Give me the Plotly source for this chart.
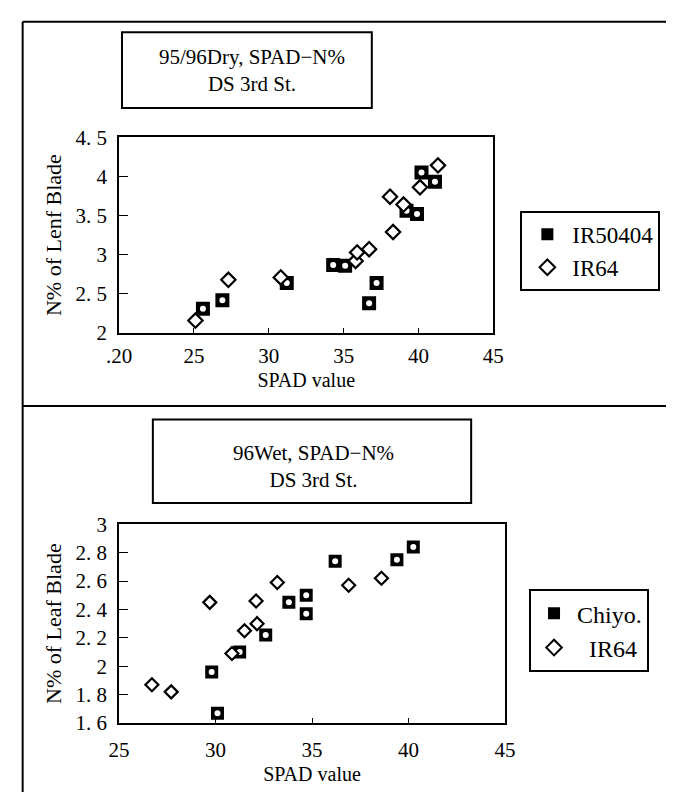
import plotly.graph_objects as go

# ---------------- data ----------------
# Upper chart: 95/96 Dry season
ir50404_x = [25.6, 26.9, 31.2, 34.3, 35.1, 36.7, 37.2, 39.2, 39.9, 40.2, 41.1]
ir50404_y = [2.31, 2.42, 2.64, 2.87, 2.86, 2.38, 2.64, 3.56, 3.52, 4.05, 3.93]
ir64_dry_x = [25.1, 27.3, 30.8, 35.8, 35.9, 36.7, 38.1, 38.3, 39.0, 40.1, 41.3]
ir64_dry_y = [2.16, 2.68, 2.71, 2.92, 3.03, 3.07, 3.74, 3.29, 3.64, 3.86, 4.14]

# Lower chart: 96 Wet season
chiyo_x = [29.8, 30.1, 31.25, 32.6, 33.8, 34.7, 34.7, 36.2, 39.4, 40.25]
chiyo_y = [1.96, 1.67, 2.10, 2.22, 2.45, 2.50, 2.37, 2.74, 2.75, 2.84]
ir64_wet_x = [26.7, 27.7, 29.7, 30.85, 31.5, 32.1, 32.15, 33.2, 36.9, 38.6]
ir64_wet_y = [1.87, 1.82, 2.45, 2.09, 2.25, 2.46, 2.30, 2.59, 2.57, 2.62]

top_xticks = [20, 25, 30, 35, 40, 45]
top_xticktext = [".20", "25", "30", "35", "40", "45"]
top_yticks = [2, 2.5, 3, 3.5, 4, 4.5]
top_yticktext = ["2", "2. 5", "3", "3. 5", "4", "4. 5"]
bot_xticks = [25, 30, 35, 40, 45]
bot_xticktext = ["25", "30", "35", "40", "45"]
bot_yticks = [1.6, 1.8, 2.0, 2.2, 2.4, 2.6, 2.8, 3.0]
bot_yticktext = ["1. 6", "1. 8", "2", "2. 2", "2. 4", "2. 6", "2. 8", "3"]

W, H = 677, 804
FONT = "Liberation Serif, Times New Roman, serif"


def px_x(p):
    return p / W


def px_y(p):
    return 1 - p / H


fig = go.Figure()

# ----- upper chart traces -----
fig.add_trace(go.Scatter(
    x=ir50404_x, y=ir50404_y, mode="markers", name="IR50404",
    marker=dict(symbol="square", size=14, color="black"),
    xaxis="x", yaxis="y", legend="legend"))
fig.add_trace(go.Scatter(
    x=ir50404_x, y=ir50404_y, mode="markers", showlegend=False, hoverinfo="skip",
    marker=dict(symbol="circle", size=6, color="white"),
    xaxis="x", yaxis="y"))
fig.add_trace(go.Scatter(
    x=ir64_dry_x, y=ir64_dry_y, mode="markers", name="IR64",
    marker=dict(symbol="diamond", size=11, color="white",
                line=dict(color="black", width=2.2)),
    xaxis="x", yaxis="y", legend="legend"))

# ----- lower chart traces -----
fig.add_trace(go.Scatter(
    x=chiyo_x, y=chiyo_y, mode="markers", name="Chiyo.",
    marker=dict(symbol="square", size=13, color="black"),
    xaxis="x2", yaxis="y2", legend="legend2"))
fig.add_trace(go.Scatter(
    x=chiyo_x, y=chiyo_y, mode="markers", showlegend=False, hoverinfo="skip",
    marker=dict(symbol="circle", size=6, color="white"),
    xaxis="x2", yaxis="y2"))
fig.add_trace(go.Scatter(
    x=ir64_wet_x, y=ir64_wet_y, mode="markers", name="\u00a0\u00a0IR64",
    marker=dict(symbol="diamond", size=10, color="white",
                line=dict(color="black", width=2.2)),
    xaxis="x2", yaxis="y2", legend="legend2"))

axis_common = dict(
    showline=True, mirror=True, linecolor="black", linewidth=2,
    showgrid=False, zeroline=False, ticks="inside", tickcolor="black",
    tickfont=dict(family=FONT, size=21, color="black"),
)

fig.update_layout(
    width=W, height=H,
    margin=dict(l=0, r=0, t=0, b=0),
    paper_bgcolor="white", plot_bgcolor="white",
    font=dict(family=FONT, color="black", size=20),
    xaxis=dict(axis_common, domain=[px_x(110), px_x(498)], range=[20, 45],
               tickvals=top_xticks, ticktext=top_xticktext, ticklen=5,
               ticklabelstandoff=3, anchor="y",
               title=dict(text="SPAD value", font=dict(family=FONT, size=20), standoff=6)),
    yaxis=dict(axis_common, domain=[px_y(331), px_y(129)], range=[2, 4.5],
               tickvals=top_yticks, ticktext=top_yticktext, ticklen=9,
               ticklabelstandoff=6, anchor="x",
               title=dict(text="N% of Lenf Blade", font=dict(family=FONT, size=22), standoff=8)),
    xaxis2=dict(axis_common, domain=[px_x(110), px_x(510)], range=[25, 45],
                tickvals=bot_xticks, ticktext=bot_xticktext, ticklen=5,
                ticklabelstandoff=7, anchor="y2",
                title=dict(text="SPAD value", font=dict(family=FONT, size=20), standoff=6)),
    yaxis2=dict(axis_common, domain=[px_y(733), px_y(528)], range=[1.6, 3.0],
                tickvals=bot_yticks, ticktext=bot_yticktext, ticklen=9,
                ticklabelstandoff=6, anchor="x2",
                title=dict(text="N% of Leaf Blade", font=dict(family=FONT, size=22), standoff=8)),
    legend=dict(x=px_x(526), y=px_y(205), xanchor="left", yanchor="top",
                bordercolor="black", borderwidth=2, bgcolor="white",
                font=dict(family=FONT, size=23), tracegroupgap=0,
                itemwidth=40, itemsizing="constant"),
    legend2=dict(x=px_x(535), y=px_y(595), xanchor="left", yanchor="top",
                 bordercolor="black", borderwidth=2, bgcolor="white",
                 font=dict(family=FONT, size=24), tracegroupgap=0,
                 itemwidth=36, itemsizing="constant"),
    showlegend=True,
)

# ----- frame lines and title boxes -----
shapes = [
    dict(type="line", xref="paper", yref="paper",
         x0=px_x(10), x1=px_x(10), y0=px_y(10), y1=0,
         line=dict(color="black", width=2)),
    dict(type="line", xref="paper", yref="paper",
         x0=px_x(10), x1=1, y0=px_y(10), y1=px_y(10),
         line=dict(color="black", width=2)),
    dict(type="line", xref="paper", yref="paper",
         x0=px_x(10), x1=1, y0=px_y(406), y1=px_y(406),
         line=dict(color="black", width=2)),
    dict(type="rect", xref="paper", yref="paper",
         x0=px_x(113), x1=px_x(372), y0=px_y(99), y1=px_y(21),
         line=dict(color="black", width=2)),
    dict(type="rect", xref="paper", yref="paper",
         x0=px_x(145), x1=px_x(475), y0=px_y(506), y1=px_y(420),
         line=dict(color="black", width=2)),
]
fig.update_layout(shapes=shapes)

fig.add_annotation(xref="paper", yref="paper", x=px_x(248), y=px_y(60),
                   xanchor="center", yanchor="middle",
                   text="95/96Dry, SPAD\u2212N%<br>DS 3rd St.", showarrow=False,
                   font=dict(family=FONT, size=21), align="center")
fig.add_annotation(xref="paper", yref="paper", x=px_x(312), y=px_y(468),
                   xanchor="center", yanchor="middle",
                   text="96Wet, SPAD\u2212N%<br>DS 3rd St.", showarrow=False,
                   font=dict(family=FONT, size=21), align="center")

# remove the browser's default body margin so figure pixels map 1:1 to the window
fig.write_html(
    "out.html",
    config={"displayModeBar": False},
    post_script="document.body.style.margin='0px';document.body.style.overflow='hidden';",
)
